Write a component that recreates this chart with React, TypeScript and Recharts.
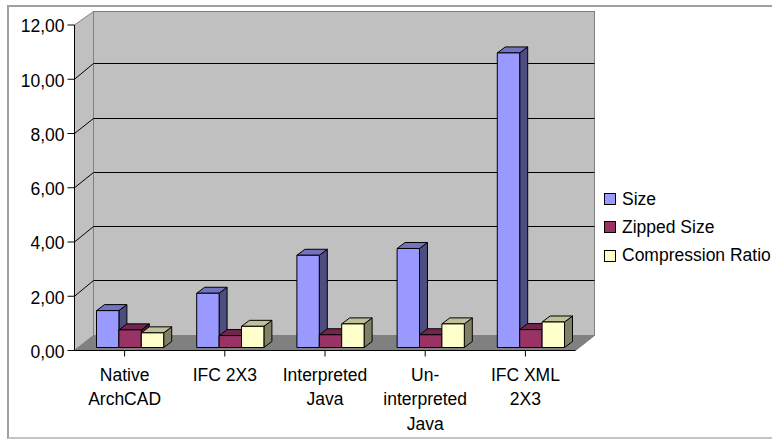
import React from "react";
import { BarChart, Bar, XAxis, YAxis, CartesianGrid, Legend } from "recharts";

const categories = ["Native ArchCAD", "IFC 2X3", "Interpreted Java", "Un-interpreted Java", "IFC XML 2X3"];
const categoryLines: Record<string, string[]> = {
  "Native ArchCAD": ["Native", "ArchCAD"],
  "IFC 2X3": ["IFC 2X3"],
  "Interpreted Java": ["Interpreted", "Java"],
  "Un-interpreted Java": ["Un-", "interpreted", "Java"],
  "IFC XML 2X3": ["IFC XML", "2X3"],
};
const sizeValues = [1.36, 2.0, 3.4, 3.65, 10.86];
const zippedValues = [0.65, 0.44, 0.47, 0.47, 0.66];
const ratioValues = [0.54, 0.78, 0.87, 0.87, 0.94];
const yTicks = [0, 2, 4, 6, 8, 10, 12];

const data = categories.map((name, i) => ({
  name,
  size: sizeValues[i],
  zipped: zippedValues[i],
  ratio: ratioValues[i],
}));

const FONT = "'Liberation Sans', Arial, sans-serif";
const FONT_SIZE = 17.5;
const PLOT = { left: 74.5, right: 575.5, top: 25, bottom: 350.5 };
const WALL_DX = 19;
const WALL_TOP = 11.5;
const WALL_BOTTOM = 335.5;
const GRID_DY = -15.5;
const BAR_SHIFT_X = 5;
const BAR_SHIFT_Y = -3;
const BAR_DX = 8;
const BAR_DY = -6;

const faces: Record<string, { top: string; side: string }> = {
  "#9999FF": { top: "#7373BF", side: "#4D4D80" },
  "#993366": { top: "#73264D", side: "#4D1A33" },
  "#FFFFCC": { top: "#BFBF99", side: "#808066" },
};

const formatTick = (v: number) => v.toFixed(2).replace(".", ",");

function Bar3D(props: any) {
  const { x, y, width, height, fill } = props;
  const f = faces[fill];
  const l = x + BAR_SHIFT_X;
  const t = y + BAR_SHIFT_Y;
  const r = l + width;
  const b = t + height;
  return (
    <g stroke="#000" strokeWidth={1} strokeLinejoin="round">
      <polygon fill={f.side} points={`${r},${t} ${r + BAR_DX},${t + BAR_DY} ${r + BAR_DX},${b + BAR_DY} ${r},${b}`} />
      <polygon fill={f.top} points={`${l},${t} ${l + BAR_DX},${t + BAR_DY} ${r + BAR_DX},${t + BAR_DY} ${r},${t}`} />
      <rect x={l} y={t} width={width} height={height} fill={fill} />
    </g>
  );
}

function Walls() {
  const { left, right, top, bottom } = PLOT;
  const bl = left + WALL_DX;
  const br = right + WALL_DX;
  const bt = WALL_TOP;
  const bb = WALL_BOTTOM;
  return (
    <svg width={772} height={439} style={{ position: "absolute", left: 0, top: 0, display: "block" }}>
      <g stroke="#808080" strokeWidth={1}>
        <rect x={bl} y={bt} width={br - bl} height={bb - bt} fill="#C0C0C0" />
        <polygon fill="#C0C0C0" points={`${left},${top} ${bl},${bt} ${bl},${bb} ${left},${bottom}`} />
        <polygon fill="#808080" points={`${left},${bottom} ${right},${bottom} ${br},${bb} ${bl},${bb}`} />
      </g>
    </svg>
  );
}

function gridLine(props: any) {
  const { x1, x2, y1, index } = props;
  if (Math.abs(y1 - PLOT.bottom) < 1 || Math.abs(y1 - PLOT.top) < 1) return <g key={index} />;
  const by = Math.floor(y1 + GRID_DY) + 0.5;
  return (
    <g key={index} stroke="#000" strokeWidth={1} fill="none">
      <line x1={x1} y1={y1} x2={x1 + WALL_DX} y2={by} />
      <line x1={x1 + WALL_DX} y1={by} x2={x2 + WALL_DX} y2={by} />
    </g>
  );
}

function XTick(props: any) {
  const { x, payload } = props;
  const lines = categoryLines[payload.value] || [payload.value];
  return (
    <text x={x} textAnchor="middle" fill="#000" fontFamily={FONT} fontSize={FONT_SIZE}>
      {lines.map((ln, i) => (
        <tspan key={i} x={x} y={381 + 24.4 * i}>
          {ln}
        </tspan>
      ))}
    </text>
  );
}

function YTick(props: any) {
  const { x, y, payload } = props;
  return (
    <text x={x} y={y + 7.4} textAnchor="end" fill="#000" fontFamily={FONT} fontSize={FONT_SIZE}>
      {formatTick(payload.value)}
    </text>
  );
}

function LegendBox(props: any) {
  const items = props.payload || [];
  return (
    <div style={{ fontFamily: FONT, fontSize: FONT_SIZE, color: "#000", whiteSpace: "nowrap" }}>
      {items.map((it: any) => (
        <div key={it.value} style={{ height: 28.3, display: "flex", alignItems: "center" }}>
          <span
            style={{
              width: 10,
              height: 10,
              border: "1px solid #000",
              background: it.color,
              display: "inline-block",
              marginRight: 6,
              boxSizing: "content-box",
            }}
          />
          {it.value}
        </div>
      ))}
    </div>
  );
}

export default function App() {
  return (
    <div style={{ position: "absolute", left: 0, top: 0, width: 772, height: 439, overflow: "hidden", background: "#fff" }}>
      <div
        style={{
          position: "absolute",
          left: 7,
          top: 5,
          width: 800,
          height: 430,
          borderLeft: "2px solid #A0A0A0",
          borderTop: "2px solid #A0A0A0",
          borderBottom: "2px solid #C4C4C4",
        }}
      />
      <Walls />
      <div style={{ position: "absolute", left: 0, top: 0 }}>
        <BarChart
          width={772}
          height={439}
          data={data}
          barGap={0}
          barSize={22.4}
          margin={{ top: PLOT.top, right: 772 - PLOT.right, bottom: 0, left: 0 }}
        >
          <CartesianGrid vertical={false} horizontal={gridLine} />
          <XAxis
            dataKey="name"
            height={439 - PLOT.bottom}
            interval={0}
            tickSize={6}
            tickLine={{ stroke: "#000" }}
            axisLine={{ stroke: "#000" }}
            tick={<XTick />}
          />
          <YAxis
            width={PLOT.left}
            domain={[0, 12]}
            ticks={yTicks}
            interval={0}
            tickSize={7}
            tickMargin={3}
            tickLine={{ stroke: "#000" }}
            axisLine={{ stroke: "#000" }}
            tick={<YTick />}
          />
          <Legend
            layout="horizontal"
            align="center"
            verticalAlign="middle"
            itemSorter={null}
            content={<LegendBox />}
            wrapperStyle={{ position: "absolute", left: 604, top: 185, width: 170, height: 86, margin: 0 }}
          />
          <Bar dataKey="size" name="Size" fill="#9999FF" isAnimationActive={false} shape={<Bar3D />} />
          <Bar dataKey="zipped" name="Zipped Size" fill="#993366" isAnimationActive={false} shape={<Bar3D />} />
          <Bar dataKey="ratio" name="Compression Ratio" fill="#FFFFCC" isAnimationActive={false} shape={<Bar3D />} />
        </BarChart>
      </div>
    </div>
  );
}
